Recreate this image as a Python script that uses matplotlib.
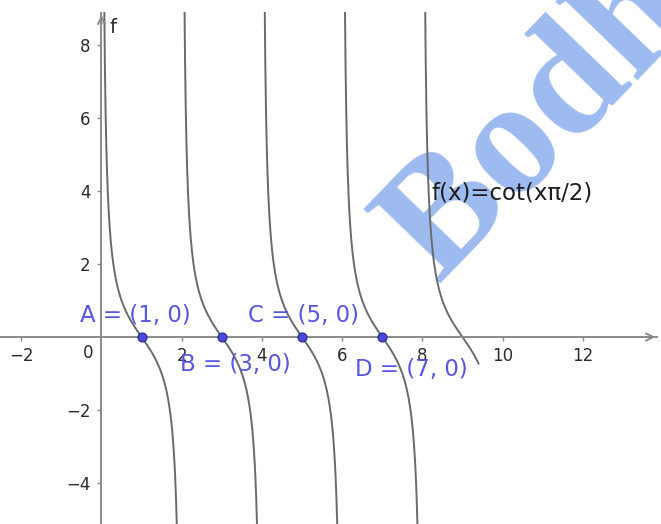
import numpy as np
import matplotlib
matplotlib.use("Agg")
import matplotlib.pyplot as plt

# Datos
func_label = "f(x)=cot(xπ/2)"
x_start, x_end = 0.0, 9.4          # dominio dibujado de la curva
point_names = ["A", "B", "C", "D"]
point_x = [1, 3, 5, 7]
point_y = [0, 0, 0, 0]
x_ticks = [-2, 2, 4, 6, 8, 10, 12]
y_ticks = [-4, -2, 2, 4, 6, 8]

# Estilos
axis_color = "#8a8a8a"
curve_color = "#6a6a6a"
point_fill = "#4a4ad8"
point_edge = "#25258f"
label_color = "#5656e2"
# desplazamiento (dx, dy) de cada etiqueta respecto a su punto
label_offsets = [(-1.54, 0.6), (-1.04, -0.74), (-1.35, 0.6), (-0.68, -0.9)]

fig = plt.figure(figsize=(6.61, 5.24), dpi=100)
ax = fig.add_axes([0, 0, 1, 512 / 524])
ax.set_xlim(-2.53, 13.95)
ax.set_ylim(-5.12, 8.9)

# Marca de agua
ax.text(438 / 661, 1 - 284 / 524, "Bodhi", transform=fig.transFigure,
        rotation=46, rotation_mode="anchor", ha="left", va="baseline",
        fontsize=118, family="Liberation Serif", fontweight="bold",
        color="#9dbbf0", zorder=0.5, clip_on=False)

# Ejes tipo GeoGebra
for side in ["top", "right"]:
    ax.spines[side].set_visible(False)
ax.spines["left"].set_position(("data", 0))
ax.spines["bottom"].set_position(("data", 0))
for side in ["left", "bottom"]:
    ax.spines[side].set_color(axis_color)
    ax.spines[side].set_linewidth(1.4)
ax.spines["bottom"].set_bounds(-2.53, 13.85)
ax.spines["left"].set_bounds(-5.12, 8.88)
ax.annotate("", xy=(13.88, 0), xytext=(13.5, 0), annotation_clip=False,
            arrowprops=dict(arrowstyle="->", color=axis_color, lw=1.4, mutation_scale=13))
ax.annotate("", xy=(0, 8.9), xytext=(0, 8.5), annotation_clip=False,
            arrowprops=dict(arrowstyle="->", color=axis_color, lw=1.4, mutation_scale=13))

ax.set_xticks(x_ticks)
ax.set_yticks(y_ticks)
ax.tick_params(axis="both", direction="out", length=3, width=1, color=axis_color,
               labelsize=12, labelcolor="#2a2a2a")
ax.tick_params(axis="x", pad=4)
ax.tick_params(axis="y", pad=5)
ax.text(-0.34, -0.44, "0", ha="center", va="center", fontsize=12, color="#2a2a2a")
ax.text(0.2, 8.47, "f", ha="left", va="center", fontsize=14, color="#2a2a2a")

# Curva f(x) = cot(xπ/2)
x = np.linspace(x_start + 1e-4, x_end, 20000)
y = np.cos(x * np.pi / 2) / np.sin(x * np.pi / 2)
y[np.abs(y) > 30] = np.nan
ax.plot(x, y, color=curve_color, lw=1.4, zorder=2)
ax.text(8.24, 3.95, func_label, ha="left", va="center", fontsize=16.5, color="#1e1e1e", zorder=3)

# Puntos A-D
ax.scatter(point_x, point_y, s=42, color=point_fill, edgecolor=point_edge,
           linewidth=0.8, zorder=4)
for name, px, py, (dx, dy) in zip(point_names, point_x, point_y, label_offsets):
    ax.text(px + dx, py + dy, f"{name} = ({px}, {py})", ha="left", va="center",
            fontsize=16.5, color=label_color, zorder=5)

fig.savefig("out.png", dpi=100)
